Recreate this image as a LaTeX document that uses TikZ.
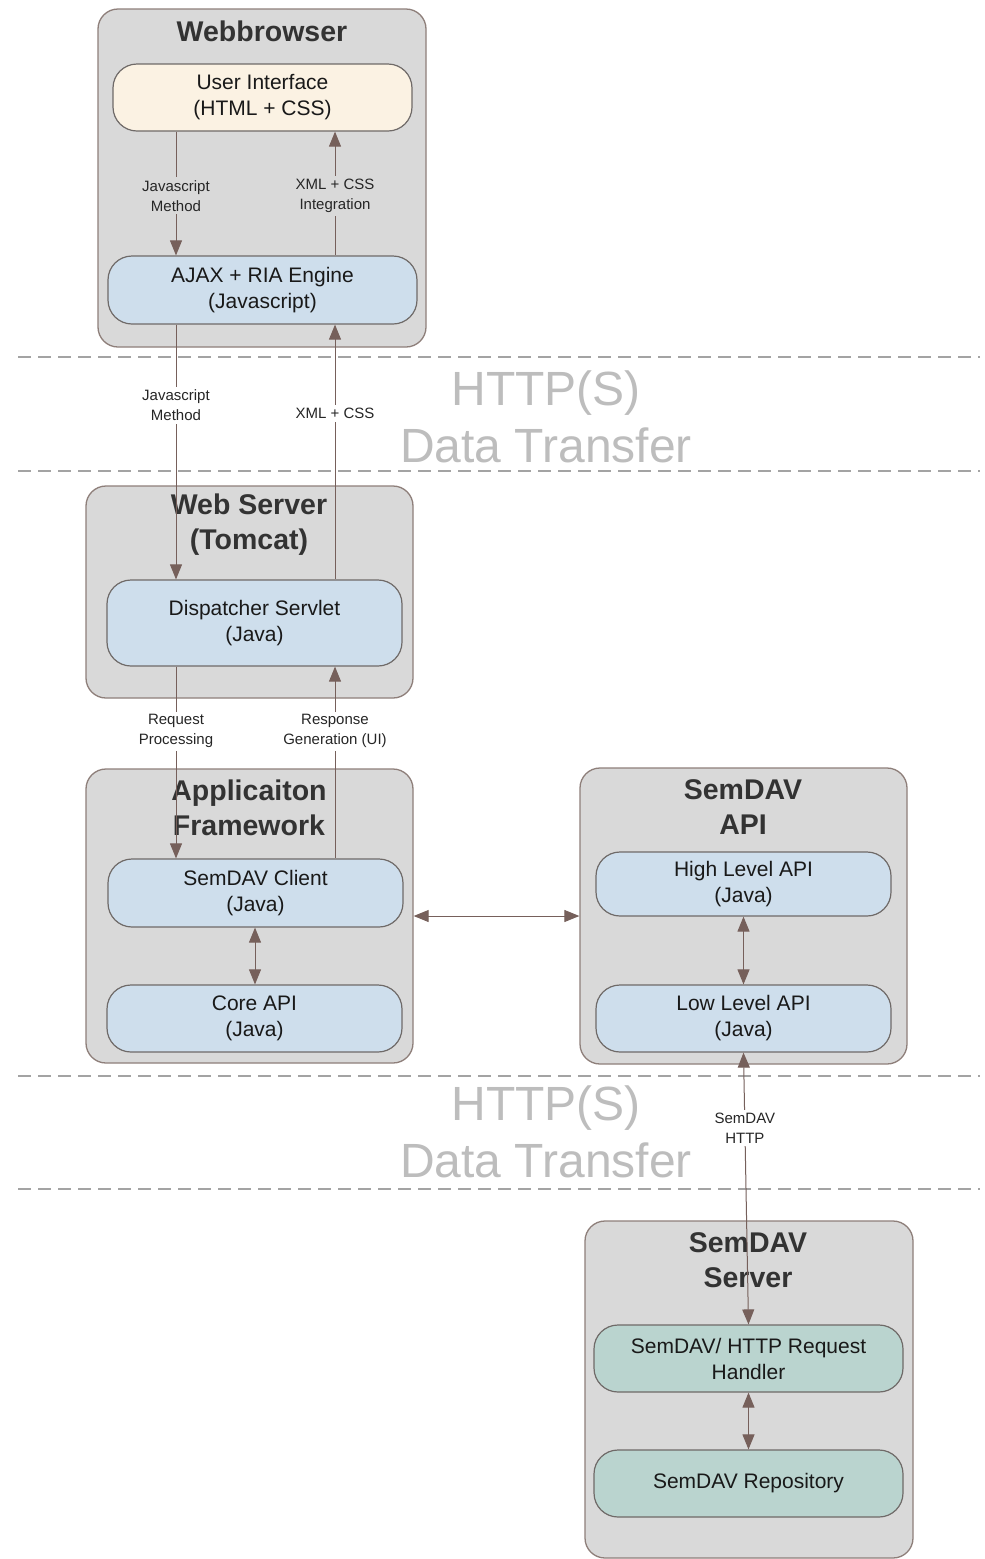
\documentclass[tikz,border=0pt]{standalone}
\usepackage{fontspec}
\setmainfont{Liberation Sans}
\usetikzlibrary{arrows.meta}
\definecolor{boxgray}{HTML}{D9D9D9}
\definecolor{outerline}{HTML}{8E7F7A}
\definecolor{innerline}{HTML}{6F6A68}
\definecolor{cream}{HTML}{FBF2E3}
\definecolor{paleblue}{HTML}{CEDEEC}
\definecolor{paleteal}{HTML}{BAD4CF}
\definecolor{arrowbrown}{HTML}{76605B}
\definecolor{titletext}{HTML}{333333}
\definecolor{zonetext}{HTML}{BDBDBD}
\definecolor{zoneline}{HTML}{A3A3A3}
\tikzset{
  outerbox/.style={draw=outerline, line width=1.3pt, fill=boxgray, rounded corners=20pt,
    minimum width=#1, inner sep=0pt},
  innerbox/.style={draw=innerline, line width=1.2pt, rounded corners=24pt,
    minimum width=#1, align=center, font=\fontsize{21}{26}\selectfont, text=black!90, inner sep=0pt},
  grouptitle/.style={font=\bfseries\fontsize{28.5}{35}\selectfont, text=titletext, align=center},
  lbl/.style={font=\fontsize{15}{20}\selectfont, text=black!85, align=center, inner sep=3pt},
  flow/.style={draw=arrowbrown, line width=1pt},
  tip/.style={},
  down/.style={flow, -{Triangle[length=15pt, width=12pt]}},
  up/.style={flow, {Triangle[length=15pt, width=12pt]}-},
  both/.style={flow, {Triangle[length=15pt, width=12pt]}-{Triangle[length=15pt, width=12pt]}},
  zone/.style={draw=zoneline, line width=2pt, dash pattern=on 13pt off 7pt},
  zonelabel/.style={font=\fontsize{48}{57}\selectfont, text=zonetext, align=center}
}
\begin{document}
\begin{tikzpicture}[x=1pt, y=-1pt]
\useasboundingbox (0,0) rectangle (985,1559);
\fill[white] (0,0) rectangle (985,1559);

% columns of the vertical request/response paths
\coordinate (colL) at (176,0);
\coordinate (colR) at (335,0);
\coordinate (colM) at (255,0);

% network boundaries
\draw[zone] (18,357) -- (980,357);
\draw[zone] (18,471) -- (980,471);
\node[zonelabel] (zoneA) at (546,417) {HTTP(S)\\Data Transfer};
\draw[zone] (18,1076) -- (980,1076);
\draw[zone] (18,1189) -- (980,1189);
\node[zonelabel] (zoneB) at (546,1132) {HTTP(S)\\Data Transfer};

% group containers
\node[outerbox=328pt, minimum height=338pt] (web) at (262,178) {};
\node[outerbox=327pt, minimum height=212pt] (tomcat) at (249.5,592) {};
\node[outerbox=327pt, minimum height=294pt] (appfw) at (249.5,916) {};
\node[outerbox=327pt, minimum height=296pt] (api) at (743.5,916) {};
\node[outerbox=328pt, minimum height=337pt] (server) at (749,1389.5) {};

% group titles
\node[grouptitle] (tWeb) at (262,31) {Webbrowser};
\node[grouptitle] (tTomcat) at (249,525) {Web Server\\(Tomcat)};
\node[grouptitle] (tApp) at (249,808) {Applicaiton\\Framework};
\node[grouptitle] (tApi) at (743,807) {SemDAV\\API};
\node[grouptitle] (tServer) at (748,1260) {SemDAV\\Server};

% components
\node[innerbox=299pt, minimum height=67pt, fill=cream] (ui) at (262.5,97.5) {User Interface\\(HTML + CSS)};
\node[innerbox=309pt, minimum height=68pt, fill=paleblue] (ajax) at (262.5,290) {AJAX + RIA Engine\\(Javascript)};
\node[innerbox=295pt, minimum height=86pt, fill=paleblue] (disp) at (254.5,623) {Dispatcher Servlet\\(Java)};
\node[innerbox=295pt, minimum height=68pt, fill=paleblue] (client) at (255.5,893) {SemDAV Client\\(Java)};
\node[innerbox=295pt, minimum height=67pt, fill=paleblue] (core) at (254.5,1018.5) {Core API\\(Java)};
\node[innerbox=295pt, minimum height=64pt, fill=paleblue] (high) at (743.5,884) {High Level API\\(Java)};
\node[innerbox=295pt, minimum height=67pt, fill=paleblue] (low) at (743.5,1018.5) {Low Level API\\(Java)};
\node[innerbox=309pt, minimum height=67pt, fill=paleteal] (handler) at (748.5,1358.5) {SemDAV/ HTTP Request\\Handler};
\node[innerbox=309pt, minimum height=67pt, fill=paleteal] (repo) at (748.5,1483.5) {SemDAV Repository};

% browser internals
\draw[down] (ui.south -| colL) -- node[lbl, fill=boxgray, pos=0.52] {Javascript\\Method} (ajax.north -| colL);
\draw[up] (ui.south -| colR) -- node[lbl, fill=boxgray, pos=0.52] {XML + CSS\\Integration} (ajax.north -| colR);

% browser <-> web server
\draw[down] (ajax.south -| colL) -- node[lbl, fill=white, pos=0.316] {Javascript\\Method} (disp.north -| colL);
\draw[up] (ajax.south -| colR) -- node[lbl, fill=white, pos=0.348] {XML + CSS} (disp.north -| colR);

% web server <-> application framework
\draw[down] (disp.south -| colL) -- node[lbl, fill=white, pos=0.337] {Request\\Processing} (client.north -| colL);
\draw[up] (disp.south -| colR) -- node[lbl, fill=white, pos=0.337] {Response\\Generation (UI)} (client.north -| colR);

% inner links
\draw[both] (client.south -| colM) -- (core.north -| colM);
\draw[both] (high) -- (low);
\draw[both] (handler) -- (repo);
\draw[both] (appfw.east) -- (api.west);

% API <-> server
\draw[both] (low.south) -- node[lbl, fill=white, pos=0.278] {SemDAV\\HTTP} (handler.north);
\end{tikzpicture}
\end{document}
